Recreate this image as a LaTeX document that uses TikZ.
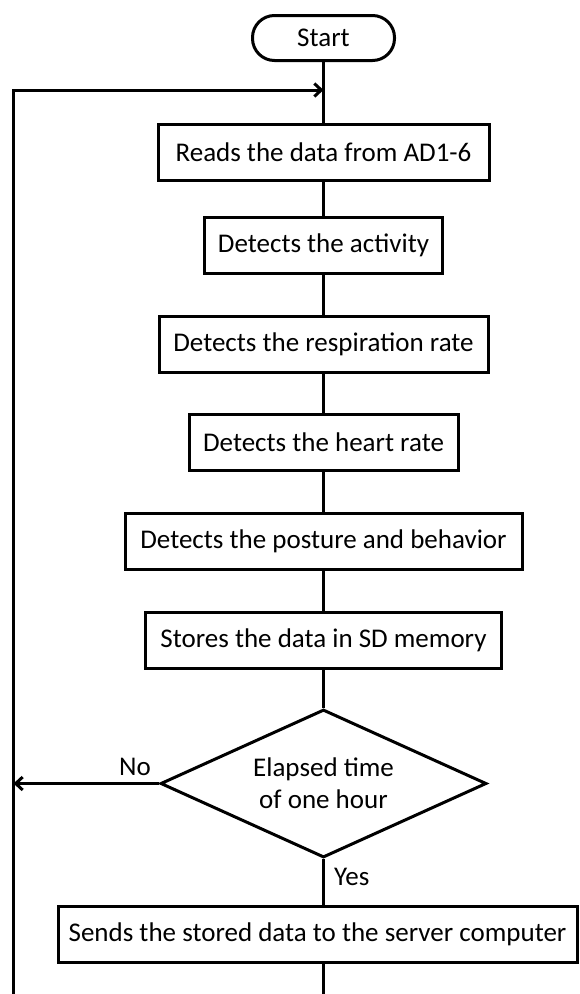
\documentclass[tikz,border=0pt]{standalone}
\usepackage{fontspec}
\setmainfont{Carlito}
\usetikzlibrary{arrows,arrows.meta,shapes}
\tikzstyle{block}=[draw,rectangle,line width=3pt,minimum height=56pt,inner sep=0pt]
\tikzstyle{terminal}=[block,rounded corners=22pt,minimum width=142pt,minimum height=45pt]
\tikzstyle{decision}=[draw,diamond,line width=3pt,aspect=2.2,minimum width=326pt,minimum height=148pt,inner sep=0pt,align=center]
\tikzstyle{label}=[inner sep=0pt]
\tikzstyle{edge}=[draw,line width=3pt,-]
\tikzstyle{arrow edge}=[edge,-{Straight Barb[length=7pt,width=13pt]}]

\begin{document}
\begin{tikzpicture}[x=1pt,y=-1pt,font=\fontsize{27}{31.7}\selectfont]
    \useasboundingbox (0,0) rectangle (580,994);
    % Start of the flow
    \node[terminal] (start) at (323.5,38) {Start};

    % The processing steps, one under the other
    \foreach \pos/\boxw/\name/\txt in {{(323.5,152)/331/read/Reads the data from AD1-6},
        {(323.5,245)/238/act/Detects the activity},
        {(323.5,344)/329/resp/Detects the respiration rate},
        {(323.5,442)/269/heart/Detects the heart rate},
        {(323.5,541)/397/post/Detects the posture and behavior},
        {(323.5,640)/356/store/Stores the data in SD memory},
        {(317.5,934.5)/519/send/Sends the stored data to the server computer}}
        \node[block,minimum width=\boxw pt] (\name) at \pos {\txt};

    % Decision
    \node[decision] (hour) at (323.5,783.5) {Elapsed time\\of one hour};
    \node[label] (no) at (135,767) {No};
    \node[label,anchor=west] (yes) at (334,877) {Yes};

    % Free ends of the loop
    \coordinate (join) at (323.5,90);
    \coordinate (back) at (13.5,783.5);
    \coordinate (loopend) at (13.5,994);
    \coordinate (out) at (323.5,994);

    % Connect the steps
    \foreach \source/\dest in {start/read, read/act, act/resp, resp/heart, heart/post, post/store, store/hour}
        \path[edge] (\source) -- (\dest);
    \path[edge] (hour.south) -- (hour.south |- send.north);
    \path[edge] (hour.south |- send.south) -- (out);

    % The loop back to the top
    \path[arrow edge] (hour.west) -- (back);
    \path[arrow edge] (loopend) |- (join);
\end{tikzpicture}
\end{document}
